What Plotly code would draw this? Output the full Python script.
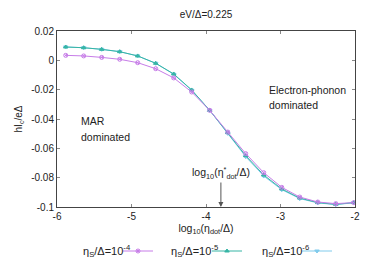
import plotly.graph_objects as go

log_eta = [-5.883, -5.642, -5.400, -5.158, -4.917, -4.675, -4.433, -4.192,
           -3.950, -3.708, -3.467, -3.225, -2.983, -2.742, -2.500, -2.258, -2.017]
ic_1e4 = [0.0034, 0.0030, 0.0020, 0.0007, -0.0016, -0.0057, -0.0120, -0.0216,
          -0.0341, -0.0489, -0.0636, -0.0766, -0.0866, -0.0932, -0.0966, -0.0977, -0.0970]
ic_1e5 = [0.0091, 0.0086, 0.0075, 0.0059, 0.0030, -0.0020, -0.0093, -0.0202,
          -0.0341, -0.0493, -0.0650, -0.0782, -0.0877, -0.0939, -0.0970, -0.0982, -0.0970]
ic_1e6 = [0.0091, 0.0086, 0.0075, 0.0059, 0.0030, -0.0020, -0.0095, -0.0204,
          -0.0341, -0.0498, -0.0657, -0.0789, -0.0882, -0.0943, -0.0972, -0.0984, -0.0971]
names = ["η<sub>S</sub>/Δ=10<sup>-4</sup>", "η<sub>S</sub>/Δ=10<sup>-5</sup>", "η<sub>S</sub>/Δ=10<sup>-6</sup>"]
colors = ["#c77de8", "#36b5a5", "#80cbec"]
symbols = ["circle-x-open", "triangle-up", "triangle-down"]
series = [ic_1e4, ic_1e5, ic_1e6]
y_ticks = [0.02, 0, -0.02, -0.04, -0.06, -0.08, -0.1]
y_tick_text = ["0.02", "0", "-0.02", "-0.04", "-0.06", "-0.08", "-0.1"]
x_ticks = [-6, -5, -4, -3, -2]
x_tick_text = ["-6", "-5", "-4", "-3", "-2"]

FONT = "Liberation Sans, Arial, sans-serif"
W, H = 374, 262
L, R, T, B = 57, 355, 31, 207


def cx(px):
    return px / W


def cy(py):
    return 1 - py / H


fig = go.Figure()
legend_ids = ["legend", "legend2", "legend3"]
sample_center = [147, 236, 326]
label_right = [133, 220, 311]
draw_order = [2, 1, 0]
for i in draw_order:
    ys = series[i]
    fig.add_trace(go.Scatter(
        x=log_eta, y=ys, mode="lines+markers", name=" ",
        line=dict(color=colors[i], width=1),
        marker=dict(symbol=symbols[i], size=4, color=colors[i],
                    line=dict(color=colors[i], width=1)),
        legend=legend_ids[i], showlegend=True,
    ))

layout_legends = {}
for i, lid in enumerate(legend_ids):
    layout_legends[lid] = dict(
        x=cx(sample_center[i] - 29), y=cy(251), xanchor="left", yanchor="middle",
        xref="container", yref="container",
        orientation="h", itemwidth=30, visible=True,
        bgcolor="rgba(0,0,0,0)", font=dict(size=10), tracegroupgap=0,
    )

TXT = "#222222"
annotations = []
for i, nm in enumerate(names):
    annotations.append(dict(
        x=(label_right[i] - L) / (R - L), y=(B - 251) / (B - T), xref="paper", yref="paper",
        xanchor="right", yanchor="middle", text=nm, showarrow=False,
        font=dict(family=FONT, size=11, color=TXT)))

region_font = dict(family=FONT, size=10.5, color=TXT)
annotations += [
    dict(x=-5.705, y=-0.0415, text="MAR", showarrow=False,
         xanchor="left", yanchor="middle", font=region_font),
    dict(x=-5.705, y=-0.0524, text="dominated", showarrow=False,
         xanchor="left", yanchor="middle", font=region_font),
    dict(x=-3.18, y=-0.0205, text="Electron-phonon", showarrow=False,
         xanchor="left", yanchor="middle", font=region_font),
    dict(x=-3.18, y=-0.0302, text="dominated", showarrow=False,
         xanchor="left", yanchor="middle", font=region_font),
    dict(x=-3.8, y=-0.1, ax=0, ay=-34,
         text="log<sub>10</sub>(η<sup>*</sup><sub>dot</sub>/Δ)", showarrow=True,
         arrowhead=2, arrowsize=1, arrowwidth=1, arrowcolor="#555555",
         font=dict(family=FONT, size=10.5, color=TXT)),
]

fig.update_layout(
    width=W, height=H, showlegend=True,
    margin=dict(l=L, r=W - R, t=T, b=H - B, autoexpand=False),
    paper_bgcolor="white", plot_bgcolor="white",
    font=dict(family=FONT, size=10, color=TXT),
    title=dict(text="eV/Δ=0.225", x=206 / W, xanchor="center", y=cy(14),
               yanchor="middle", xref="container", yref="container",
               font=dict(family=FONT, size=10, color=TXT)),
    annotations=annotations,
    **layout_legends,
)
fig.update_xaxes(range=[-6, -2], tickvals=x_ticks, ticktext=x_tick_text,
                 ticks="inside", ticklen=3, automargin=False,
                 mirror="allticks", showline=True, linecolor="#444444", linewidth=1,
                 showgrid=False, zeroline=False, tickcolor="#888888",
                 title=dict(text="log<sub>10</sub>(η<sub>dot</sub>/Δ)", standoff=8,
                            font=dict(family=FONT, size=10.5)))
fig.update_yaxes(range=[-0.1, 0.02], tickvals=y_ticks, ticktext=y_tick_text,
                 ticks="inside", ticklen=3, automargin=False,
                 mirror="allticks", showline=True, linecolor="#444444", linewidth=1,
                 showgrid=False, zeroline=False, tickcolor="#888888",
                 title=dict(text="hI<sub>c</sub>/eΔ", standoff=6,
                            font=dict(family=FONT, size=10)))
fig.write_html("out.html", config={"displayModeBar": False},
               post_script="document.body.style.margin='0';")
